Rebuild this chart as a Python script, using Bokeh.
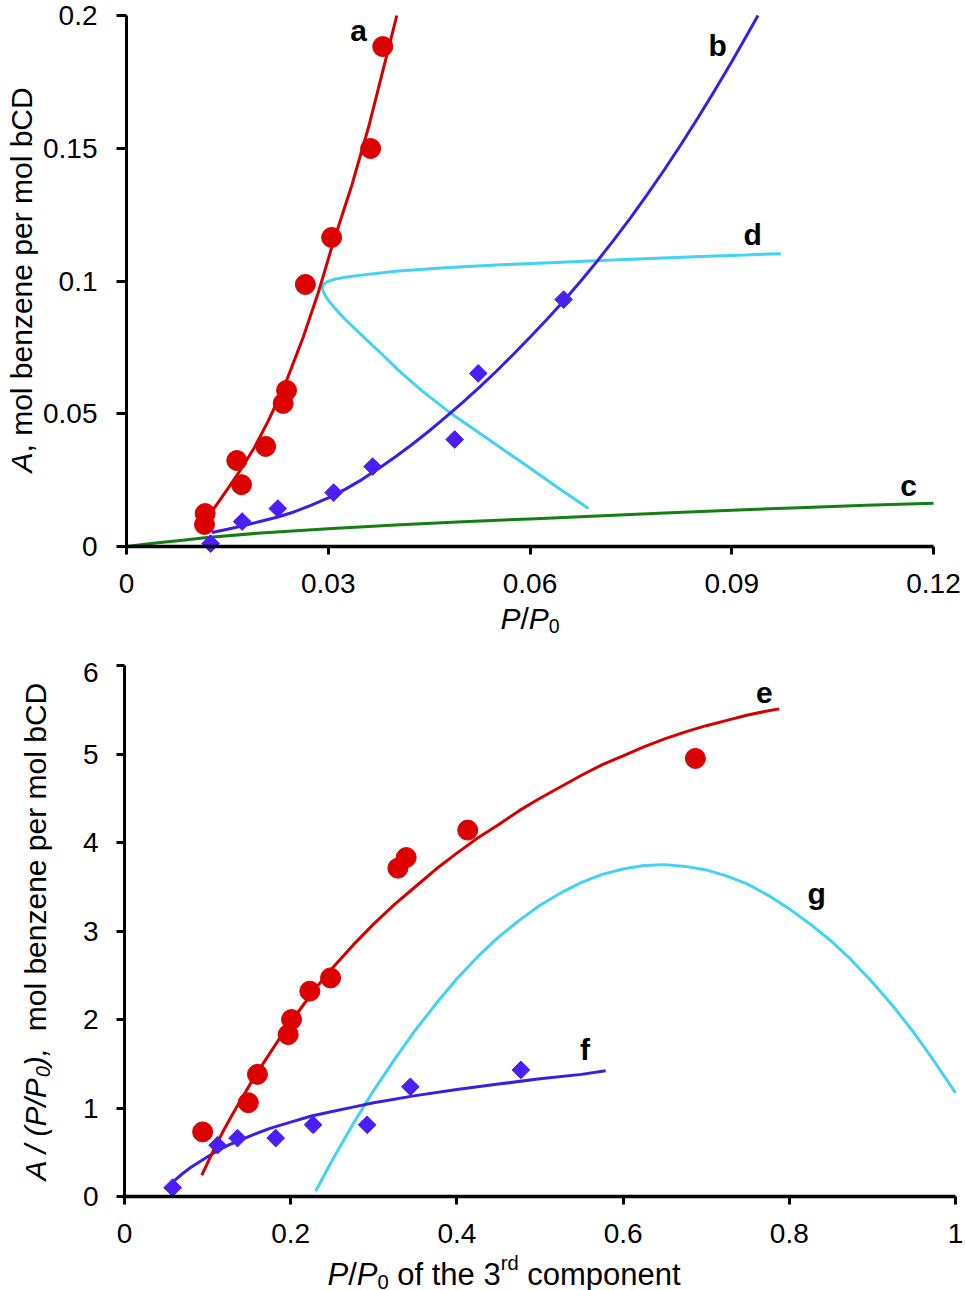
import numpy as np
from bokeh.plotting import figure
from bokeh.models import Range1d, FixedTicker, CustomJSTickFormatter, Label, LinearAxis, Grid
from bokeh.layouts import column
from bokeh.core.properties import value
from bokeh.embed import file_html
from bokeh.resources import INLINE

# ---------------- data: top panel ----------------
top_x_ticks = [0, 0.03, 0.06, 0.09, 0.12]
top_x_labels = ["0", "0.03", "0.06", "0.09", "0.12"]
top_y_ticks = [0, 0.05, 0.1, 0.15, 0.2]
top_y_labels = ["0", "0.05", "0.1", "0.15", "0.2"]

a_pts_x = [0.0116, 0.0117, 0.0164, 0.0171, 0.0207, 0.0233, 0.0238, 0.0266, 0.0305, 0.0363, 0.0381]
a_pts_y = [0.0083, 0.0124, 0.0324, 0.0233, 0.0377, 0.0539, 0.0588, 0.0987, 0.1164, 0.1499, 0.1883]
a_fit_x = [0.0128, 0.0150, 0.0170, 0.0190, 0.0211, 0.0235, 0.0263, 0.0285, 0.0308, 0.0335, 0.0360, 0.0382, 0.0402]
a_fit_y = [0.0136, 0.0215, 0.0290, 0.0372, 0.0474, 0.0605, 0.0790, 0.0955, 0.1150, 0.1360, 0.1580, 0.1800, 0.2000]

b_pts_x = [0.0125, 0.0172, 0.0225, 0.0308, 0.0366, 0.0488, 0.0523, 0.0650]
b_pts_y = [0.0011, 0.0094, 0.0143, 0.0203, 0.0301, 0.0403, 0.0652, 0.0930]
b_fit_x = [0.0127, 0.0150, 0.0175, 0.0200, 0.0225, 0.0250, 0.0275, 0.0300, 0.0325, 0.0350, 0.0375,
           0.0400, 0.0425, 0.0450, 0.0475, 0.0500, 0.0525, 0.0550, 0.0575, 0.0600, 0.0625, 0.0650,
           0.0675, 0.0700, 0.0725, 0.0750, 0.0775, 0.0800, 0.0825, 0.0850, 0.0875, 0.0900, 0.0925, 0.0939]
b_fit_y = [0.0053, 0.0065, 0.0079, 0.0095, 0.0111, 0.0131, 0.0156, 0.0183, 0.0215, 0.0252, 0.0294,
           0.0338, 0.0385, 0.0435, 0.0488, 0.0543, 0.0600, 0.0660, 0.0723, 0.0788, 0.0855, 0.0925,
           0.0998, 0.1075, 0.1156, 0.1240, 0.1328, 0.1420, 0.1516, 0.1616, 0.1719, 0.1826, 0.1937, 0.2000]

c_fit_x = [0, 0.004, 0.008, 0.012, 0.02, 0.03, 0.04, 0.05, 0.06, 0.07, 0.08, 0.09, 0.10, 0.11, 0.12]
c_fit_y = [0, 0.0012, 0.0023, 0.0034, 0.0051, 0.0067, 0.0081, 0.0093, 0.0104, 0.0115, 0.0126, 0.0137, 0.0146, 0.0155, 0.0163]

d_fit_x = [0.0687, 0.0640, 0.0586, 0.0530, 0.0480, 0.0440, 0.0407, 0.0380, 0.0348, 0.0325, 0.0311,
           0.0300, 0.0294, 0.0291, 0.0293, 0.0299, 0.0310, 0.0328, 0.0355, 0.0400, 0.0480, 0.0556,
           0.0630, 0.0705, 0.0780, 0.0854, 0.0920, 0.0973]
d_fit_y = [0.0143, 0.0224, 0.0320, 0.0418, 0.0506, 0.0585, 0.0658, 0.0724, 0.0800, 0.0856, 0.0894,
           0.0928, 0.0952, 0.0972, 0.0988, 0.0998, 0.1007, 0.1015, 0.1024, 0.1037, 0.1051, 0.1061,
           0.1069, 0.1077, 0.1085, 0.1092, 0.1098, 0.1103]

top_curve_names = ["a", "b", "d", "c"]
top_name_x = [0.0345, 0.0879, 0.0931, 0.1163]
top_name_y = [0.1943, 0.1887, 0.1175, 0.0230]

# ---------------- data: bottom panel ----------------
bot_x_ticks = [0, 0.2, 0.4, 0.6, 0.8, 1]
bot_x_labels = ["0", "0.2", "0.4", "0.6", "0.8", "1"]
bot_y_ticks = [0, 1, 2, 3, 4, 5, 6]
bot_y_labels = ["0", "1", "2", "3", "4", "5", "6"]

e_pts_x = [0.094, 0.149, 0.160, 0.197, 0.201, 0.223, 0.248, 0.329, 0.339, 0.413, 0.687]
e_pts_y = [0.73, 1.06, 1.38, 1.83, 2.00, 2.32, 2.47, 3.71, 3.83, 4.14, 4.95]
e_fit_x = [0.093, 0.100, 0.110, 0.120, 0.130, 0.140, 0.150, 0.1625, 0.175, 0.1875, 0.200, 0.2125,
           0.225, 0.2375, 0.250, 0.275, 0.300, 0.325, 0.350, 0.375, 0.400, 0.425, 0.450, 0.475,
           0.500, 0.525, 0.550, 0.575, 0.600, 0.625, 0.650, 0.675, 0.700, 0.725, 0.750, 0.770, 0.788]
e_fit_y = [0.24, 0.38, 0.58, 0.76, 0.93, 1.09, 1.25, 1.44, 1.62, 1.80, 1.97, 2.13,
           2.29, 2.44, 2.58, 2.84, 3.08, 3.30, 3.50, 3.70, 3.88, 4.05, 4.20, 4.36,
           4.50, 4.63, 4.76, 4.88, 4.98, 5.08, 5.17, 5.25, 5.32, 5.38, 5.44, 5.48, 5.51]

f_pts_x = [0.058, 0.112, 0.136, 0.182, 0.227, 0.292, 0.344, 0.477]
f_pts_y = [0.10, 0.58, 0.66, 0.66, 0.81, 0.81, 1.24, 1.43]
f_fit_x = [0.049, 0.060, 0.070, 0.080, 0.090, 0.100, 0.1125, 0.125, 0.1375, 0.150, 0.175, 0.200,
           0.225, 0.250, 0.275, 0.300, 0.350, 0.400, 0.450, 0.500, 0.550, 0.579]
f_fit_y = [0.09, 0.18, 0.26, 0.33, 0.39, 0.45, 0.52, 0.58, 0.63, 0.68, 0.77, 0.84,
           0.91, 0.96, 1.01, 1.06, 1.14, 1.21, 1.27, 1.33, 1.38, 1.42]

g_fit_x = [0.230, 0.250, 0.275, 0.300, 0.325, 0.350, 0.375, 0.400, 0.425, 0.450, 0.475, 0.500,
           0.525, 0.550, 0.575, 0.600, 0.625, 0.650, 0.675, 0.700, 0.725, 0.750, 0.775, 0.800,
           0.825, 0.850, 0.875, 0.900, 0.925, 0.950, 0.975, 1.000]
g_fit_y = [0.06, 0.41, 0.82, 1.20, 1.55, 1.88, 2.18, 2.46, 2.71, 2.93, 3.12, 3.29,
           3.43, 3.55, 3.64, 3.70, 3.74, 3.75, 3.73, 3.69, 3.62, 3.53, 3.40, 3.25,
           3.08, 2.89, 2.67, 2.42, 2.15, 1.85, 1.52, 1.17]

bot_curve_names = ["e", "f", "g"]
bot_name_x = [0.770, 0.554, 0.833]
bot_name_y = [5.69, 1.66, 3.42]

# ---------------- styles / layout (pixels) ----------------
FONT = "Liberation Sans"
RED_PT = "#DD0000"
RED_LN = "#D40000"
BLUE_PT = "#4B1EF5"
BLUE_LN = "#3C1EE0"
CYAN = "#42D2F5"
GREEN = "#137F13"

W = 965
H1, H2 = 662, 628
# top: x 0..0.12 -> px 126..933, y 0..0.2 -> py 546..15 (page)
T_X0, T_X1, T_Y0, T_Y1 = 126, 933, 546, 15
# bottom: x 0..1 -> px 124..955, y 0..6 -> py 1196..665 (page), canvas starts at 662
B_X0, B_X1, B_Y0, B_Y1, B_TOP = 124, 955, 1196, 665, 662

ADV = {'P': 0.667, '/': 0.278, '0': 0.556, ' ': 0.278, 'o': 0.556, 'f': 0.278, 't': 0.278,
       'h': 0.556, 'e': 0.556, '3': 0.556, 'r': 0.333, 'd': 0.556, 'c': 0.5, 'm': 0.833,
       'p': 0.556, 'n': 0.556, 'A': 0.667, '(': 0.333, ')': 0.333, ',': 0.278, 'l': 0.222,
       'b': 0.556, 'z': 0.5, 'C': 0.722, 'D': 0.722}


def tw(s, size):
    return sum(ADV.get(ch, 0.556) for ch in s) * size


def add_pieces(p, pieces, px0, py0, size, to_data, angle=0.0):
    pos = 0.0
    for text, style, kind in pieces:
        fs = size * 0.65 if kind != "n" else size
        down = {"n": 0.0, "sub": 0.25 * size, "sup": -0.38 * size}[kind]
        lead = len(text) - len(text.lstrip(" "))
        pos += tw(" " * lead, fs)
        core = text.strip(" ")
        if core:
            if angle == 0.0:
                px, py = px0 + pos, py0 + down
            else:
                px, py = px0 + down, py0 - pos
            x, y = to_data(px, py)
            p.add_layout(Label(x=x, y=y, text=core, text_font=FONT, text_font_size=f"{fs:.1f}px",
                               text_font_style=style, text_color="black", text_align="left",
                               text_baseline="alphabetic", angle=angle))
        pos += tw(core, fs)
        pos += tw(" " * (len(text) - lead - len(core)), fs)


def fmt(ticks, labels):
    return CustomJSTickFormatter(args=dict(vals=ticks, labels=labels), code="""
        const i = vals.findIndex(v => Math.abs(v - tick) < 1e-9);
        return i >= 0 ? labels[i] : '';
    """)


def make_axes(p, xt, xl, yt, yl, ysoff, ytick, xb, yb):
    xa = LinearAxis(fixed_location=0, bounds=xb, ticker=FixedTicker(ticks=xt), formatter=fmt(xt, xl))
    ya = LinearAxis(fixed_location=0, bounds=yb, ticker=FixedTicker(ticks=yt), formatter=fmt(yt, yl))
    for ax in (xa, ya):
        ax.axis_line_color = "black"
        ax.major_tick_line_width = 3
        ax.major_tick_line_color = "black"
        ax.major_tick_in = 0
        ax.minor_tick_line_color = None
        ax.major_label_text_font = FONT
        ax.major_label_text_font_size = "28px"
        ax.major_label_text_color = "black"
    xa.axis_line_width = 3.5
    ya.axis_line_width = 3
    xa.major_tick_out = 8
    xa.major_label_standoff = 19
    ya.major_tick_out = ytick
    ya.major_label_standoff = ysoff
    p.add_layout(xa, "below")
    p.add_layout(ya, "left")
    for g in p.select(type=Grid):
        g.visible = False
    p.outline_line_color = None
    p.background_fill_color = "white"
    p.border_fill_color = "white"
    p.min_border = 0


# ---------------- top panel ----------------
tsx = (top_x_ticks[-1] - top_x_ticks[0]) / (T_X1 - T_X0)
tsy = (top_y_ticks[-1] - top_y_ticks[0]) / (T_Y0 - T_Y1)
p1 = figure(width=W, height=H1,
            x_range=Range1d(-T_X0 * tsx, (W - T_X0) * tsx),
            y_range=Range1d(-(H1 - T_Y0) * tsy, T_Y0 * tsy),
            x_axis_location=None, y_axis_location=None,
            output_backend="svg", toolbar_location=None)
make_axes(p1, top_x_ticks, top_x_labels, top_y_ticks, top_y_labels, 19, 10,
          (top_x_ticks[0], top_x_ticks[-1]), (top_y_ticks[0], top_y_ticks[-1]))


def top_data(px, py):
    return (px - T_X0) * tsx, (T_Y0 - py) * tsy


p1.line(c_fit_x, c_fit_y, line_color=GREEN, line_width=3)
p1.line(d_fit_x, d_fit_y, line_color=CYAN, line_width=3)
p1.line(b_fit_x, b_fit_y, line_color=BLUE_LN, line_width=3)
p1.line(a_fit_x, a_fit_y, line_color=RED_LN, line_width=3)
p1.scatter(a_pts_x, a_pts_y, marker="circle", size=20, fill_color=RED_PT, line_color=RED_PT)
p1.scatter(b_pts_x, b_pts_y, marker="square", angle=np.pi / 4, size=12.5,
           fill_color=BLUE_PT, line_color=BLUE_PT)
p1.text(top_name_x, top_name_y, text=top_curve_names, text_font=value(FONT), text_font_style="bold",
        text_font_size="30px", text_align="center", text_baseline="middle", text_color="black")

add_pieces(p1, [("P", "italic", "n"), ("/", "normal", "n"), ("P", "italic", "n"), ("0", "normal", "sub")],
           500, 618, 30, top_data)
add_pieces(p1, [("A", "italic", "n"), (", mol benzene per mol bCD", "normal", "n")],
           21, 472, 30, top_data, angle=np.pi / 2)

# ---------------- bottom panel ----------------
bsx = (bot_x_ticks[-1] - bot_x_ticks[0]) / (B_X1 - B_X0)
bsy = (bot_y_ticks[-1] - bot_y_ticks[0]) / (B_Y0 - B_Y1)
p2 = figure(width=W, height=H2,
            x_range=Range1d(-B_X0 * bsx, (W - B_X0) * bsx),
            y_range=Range1d(-(B_TOP + H2 - B_Y0) * bsy, (B_Y0 - B_TOP) * bsy),
            x_axis_location=None, y_axis_location=None,
            output_backend="svg", toolbar_location=None)
make_axes(p2, bot_x_ticks, bot_x_labels, bot_y_ticks, bot_y_labels, 18, 8,
          (bot_x_ticks[0], bot_x_ticks[-1]), (bot_y_ticks[0], bot_y_ticks[-1]))


def bot_data(px, py):
    return (px - B_X0) * bsx, (B_Y0 - py) * bsy


p2.line(g_fit_x, g_fit_y, line_color=CYAN, line_width=3)
p2.line(f_fit_x, f_fit_y, line_color=BLUE_LN, line_width=3)
p2.line(e_fit_x, e_fit_y, line_color=RED_LN, line_width=3)
p2.scatter(e_pts_x, e_pts_y, marker="circle", size=20, fill_color=RED_PT, line_color=RED_PT)
p2.scatter(f_pts_x, f_pts_y, marker="square", angle=np.pi / 4, size=12.5,
           fill_color=BLUE_PT, line_color=BLUE_PT)
p2.text(bot_name_x, bot_name_y, text=bot_curve_names, text_font=value(FONT), text_font_style="bold",
        text_font_size="30px", text_align="center", text_baseline="middle", text_color="black")

add_pieces(p2, [("P", "italic", "n"), ("/", "normal", "n"), ("P", "italic", "n"), ("0", "normal", "sub"),
                (" of the 3", "normal", "n"), ("rd", "normal", "sup"), (" component", "normal", "n")],
           327, 1274, 31, bot_data)
add_pieces(p2, [("A / (P/P", "italic", "n"), ("0", "italic", "sub"), ("),", "italic", "n"),
                ("  mol benzene per mol bCD", "normal", "n")],
           35, 1180, 30, bot_data, angle=np.pi / 2)

layout = column(p1, p2)
open("out.html", "w").write(file_html(layout, INLINE))
